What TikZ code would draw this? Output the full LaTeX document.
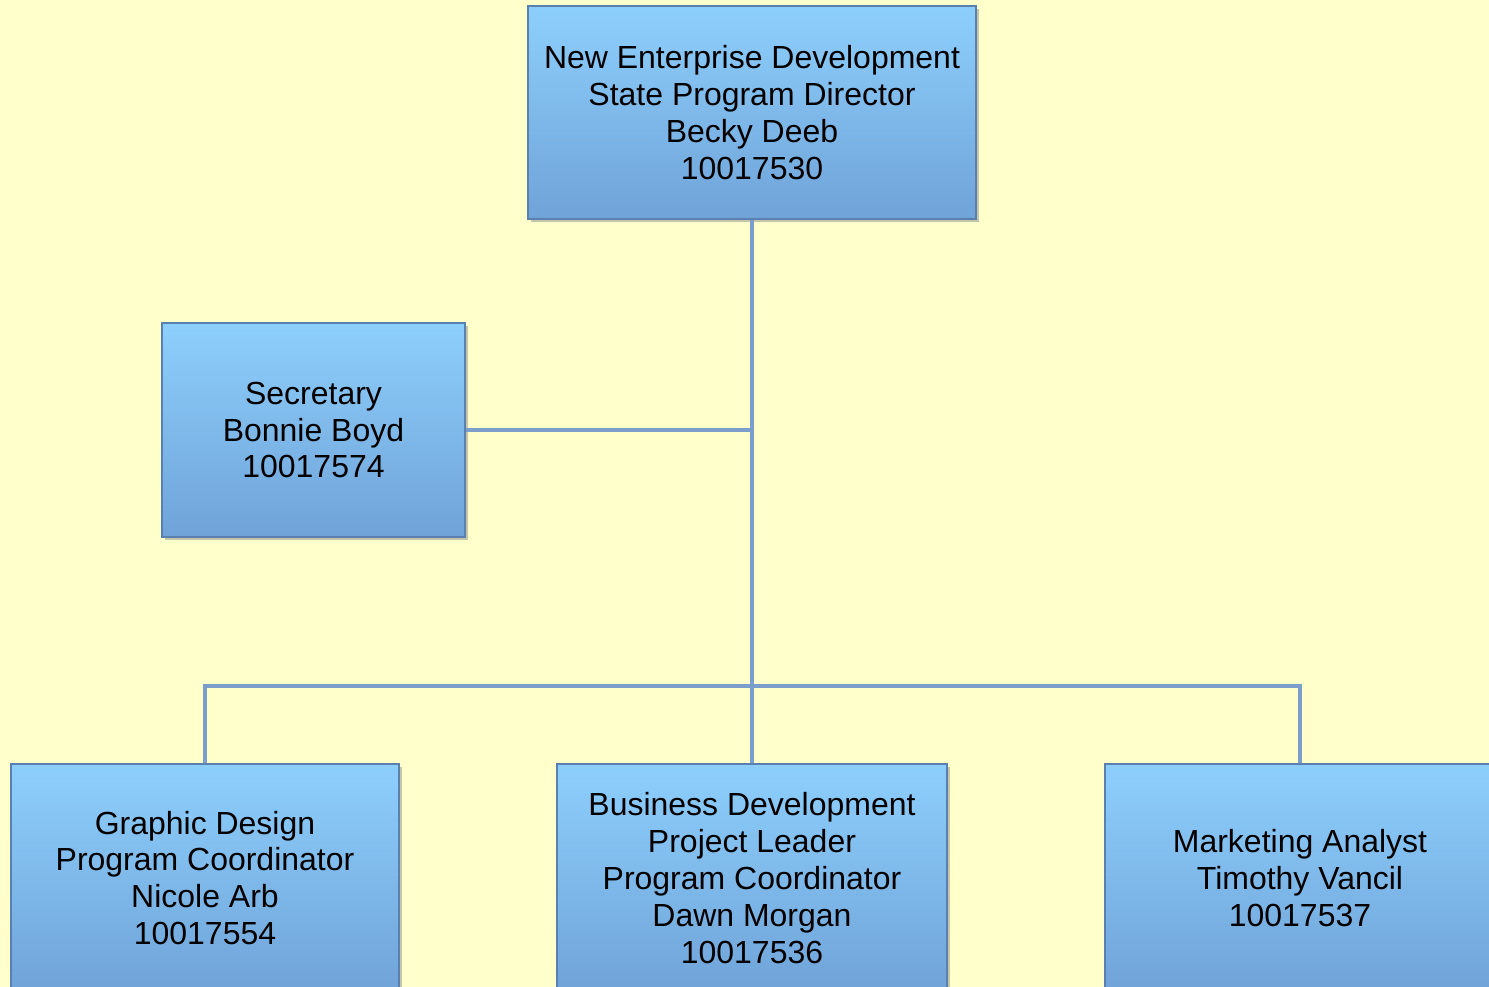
\documentclass[tikz,border=0pt]{standalone}
\usepackage{fontspec}
\setmainfont{Liberation Sans}
\usetikzlibrary{shadows}

\definecolor{bgyellow}{RGB}{255,255,204}
\definecolor{boxtop}{RGB}{141,207,252}
\definecolor{boxbottom}{RGB}{112,163,216}
\definecolor{boxedge}{RGB}{90,128,176}
\definecolor{linkblue}{RGB}{124,158,202}

\tikzset{
  person/.style={rectangle, top color=boxtop, bottom color=boxbottom,
    draw=boxedge, line width=0.6pt, align=center, inner sep=0pt,
    font=\fontsize{18.2}{21}\selectfont,
    drop shadow={shadow xshift=1.5pt, shadow yshift=-1.8pt, opacity=0.45}},
  link/.style={linkblue, line width=2.4pt}
}

\begin{document}
\begin{tikzpicture}

\useasboundingbox (0,0) rectangle (29.78,-19.74);
\fill[bgyellow] (0,0) rectangle (29.78,-19.74);

\node[person, minimum width=8.96cm, minimum height=4.26cm] (director) at (15.04,-2.25)
  {New Enterprise Development\\State Program Director\\Becky Deeb\\10017530};
\node[person, minimum width=6.06cm, minimum height=4.28cm] (secretary) at (6.27,-8.6)
  {Secretary\\Bonnie Boyd\\10017574};

\node[person, minimum width=7.76cm, minimum height=4.56cm] (graphic) at (4.1,-17.56)
  {Graphic Design\\Program Coordinator\\Nicole Arb\\10017554};
\node[person, minimum width=7.8cm, minimum height=4.56cm] (business) at (15.04,-17.56)
  {Business Development\\Project Leader\\Program Coordinator\\Dawn Morgan\\10017536};
\node[person, minimum width=7.8cm, minimum height=4.56cm] (marketing) at (26.0,-17.56)
  {Marketing Analyst\\Timothy Vancil\\10017537};

\coordinate (bus) at (15.04,-13.72);

% connectors
\draw[link] (director.south) -- (business.north);
\draw[link] (secretary.east) -- (secretary.east -| director.south);
\draw[link] (graphic.north) -- (graphic.north |- bus) -- (marketing.north |- bus) -- (marketing.north);

\end{tikzpicture}
\end{document}
